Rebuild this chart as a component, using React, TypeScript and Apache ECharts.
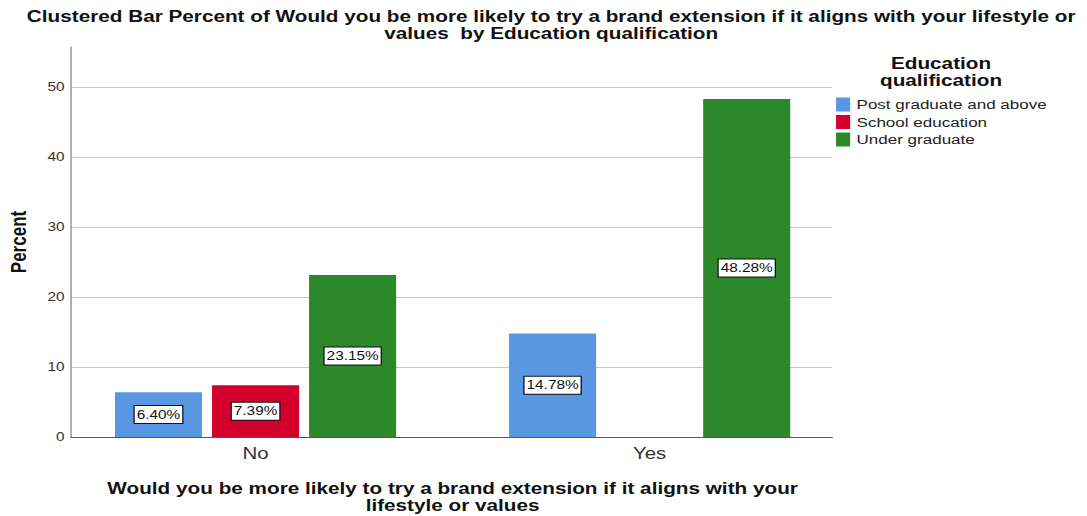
import React, { useEffect, useRef } from "react";
import * as echarts from "echarts";

const categories = ["No", "Yes"];
const seriesNames = ["Post graduate and above", "School education", "Under graduate"];
const postGraduate: (number | null)[] = [6.4, 14.78];
const schoolEducation: (number | null)[] = [7.39, null];
const underGraduate: (number | null)[] = [23.15, 48.28];
const colors = ["#5a97e2", "#d4002c", "#2b892b"];
const yTicks = [0, 10, 20, 30, 40, 50];

const FONT = "'Liberation Sans', Arial, sans-serif";
const Y_MAX = 55.7;

// The chart is laid out on a narrower canvas and widened horizontally,
// which gives the text its broad, stretched look.
const PAGE_W = 1087;
const PAGE_H = 516;
const BASE_W = 849;
const STRETCH = PAGE_W / BASE_W;

export default function App() {
  const ref = useRef<HTMLDivElement>(null);

  useEffect(() => {
    if (!ref.current) return;
    const chart = echarts.init(ref.current, undefined, { renderer: "svg" });
    const values = [postGraduate, schoolEducation, underGraduate];

    const labelStyle = {
      show: true,
      position: "inside" as const,
      formatter: (p: any) => `${Number(p.value).toFixed(2)}%`,
      backgroundColor: "#ffffff",
      borderColor: "#111111",
      borderWidth: 1,
      padding: [3, 1.5, 2, 1.5],
      fontSize: 12,
      fontFamily: FONT,
      color: "#111111",
    };

    const boldText = {
      fontFamily: FONT,
      fontSize: 16.2,
      fontWeight: "bold",
      color: "#111111",
      lineHeight: 17,
    };

    chart.setOption({
      animation: false,
      backgroundColor: "#ffffff",
      title: [
        {
          text:
            "Clustered Bar Percent of Would you be more likely to try a brand extension if it aligns with your lifestyle or\nvalues  by Education qualification",
          left: 425.5,
          textAlign: "center",
          top: 3,
          textStyle: boldText,
        },
        {
          text: "Education\nqualification",
          left: 730,
          textAlign: "center",
          top: 50,
          textStyle: boldText,
        },
      ],
      legend: {
        orient: "vertical",
        left: 653,
        top: 97.5,
        padding: 0,
        itemWidth: 11,
        itemHeight: 14,
        itemGap: 3.5,
        icon: "rect",
        data: seriesNames,
        textStyle: { fontFamily: FONT, fontSize: 13.3, color: "#222222" },
      },
      grid: [
        { left: 55.5, right: 199, top: 47, bottom: 79, outerBoundsMode: "none" },
        { left: 45.7, right: 187.7, top: 47, bottom: 79, outerBoundsMode: "none" },
      ],
      xAxis: [
        {
          gridIndex: 0,
          type: "category",
          data: categories,
          axisLine: { lineStyle: { color: "#555555", width: 1.2 } },
          axisTick: { show: false },
          axisLabel: { show: false },
        },
        {
          gridIndex: 1,
          type: "category",
          data: categories,
          axisLine: { show: false },
          axisTick: { show: false },
          axisLabel: { fontFamily: FONT, fontSize: 16, color: "#333333", margin: 8 },
          name: "Would you be more likely to try a brand extension if it aligns with your\nlifestyle or values",
          nameLocation: "middle",
          nameGap: 43,
          nameTextStyle: boldText,
        },
      ],
      yAxis: [
        {
          gridIndex: 0,
          type: "value",
          min: 0,
          max: Y_MAX,
          interval: 10,
          axisLine: { show: true, lineStyle: { color: "#999999", width: 1.2 } },
          axisTick: { show: false },
          axisLabel: {
            fontFamily: FONT,
            fontSize: 12,
            color: "#333333",
            margin: 5,
            showMaxLabel: false,
            formatter: (v: number) => (yTicks.includes(v) ? String(v) : ""),
          },
          splitLine: { show: true, showMaxLine: false, lineStyle: { color: "#c8c8c8", width: 1.2 } },
        },
        {
          gridIndex: 1,
          type: "value",
          min: 0,
          max: Y_MAX,
          interval: 10,
          show: false,
          splitLine: { show: false },
        },
      ],
      graphic: [
        {
          type: "text",
          x: 14.5,
          y: 242,
          rotation: Math.PI / 2,
          style: {
            text: "Percent",
            fontFamily: FONT,
            fontSize: 17,
            fontWeight: "bold",
            fill: "#111111",
            align: "center",
            verticalAlign: "middle",
          },
        },
      ],
      series: seriesNames.map((name, i) => ({
        name,
        type: "bar",
        xAxisIndex: 1,
        yAxisIndex: 1,
        data: values[i],
        barWidth: 68,
        barGap: "11.5%",
        itemStyle: { color: colors[i] },
        label: labelStyle,
      })),
    });

    return () => chart.dispose();
  }, []);

  return (
    <div style={{ position: "fixed", left: 0, top: 0, width: PAGE_W, height: PAGE_H, overflow: "hidden", background: "#fff" }}>
      <div
        ref={ref}
        style={{
          width: BASE_W,
          height: PAGE_H,
          transform: `scaleX(${STRETCH})`,
          transformOrigin: "0 0",
        }}
      />
    </div>
  );
}
